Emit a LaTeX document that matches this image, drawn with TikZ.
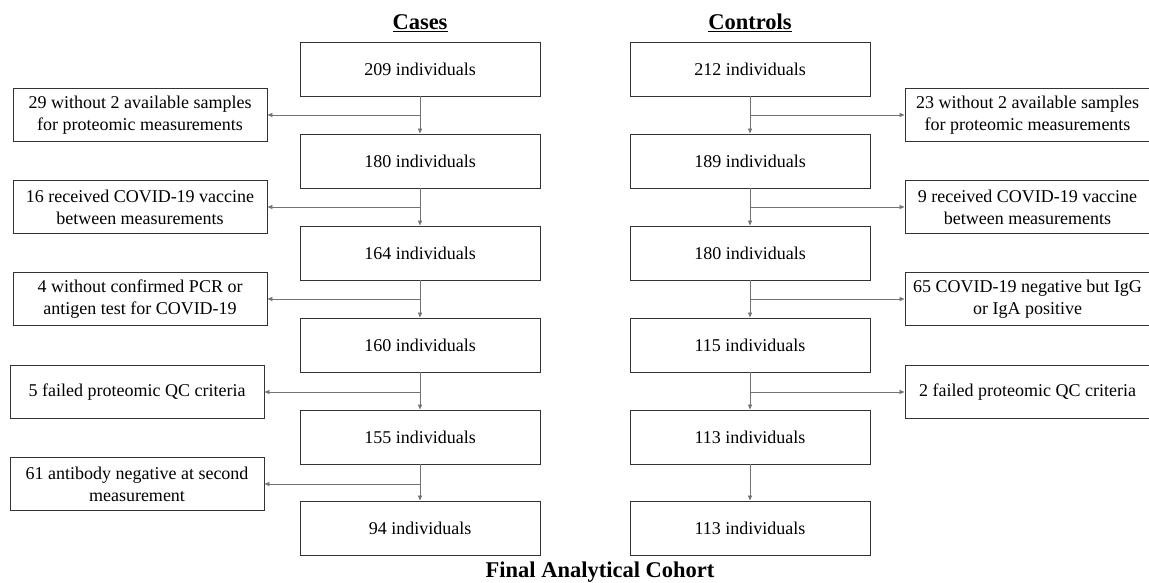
\documentclass[tikz,border=0pt]{standalone}
\usepackage{fontspec}
\setmainfont{Liberation Serif}
\usetikzlibrary{arrows.meta,calc}
\tikzset{
  mainbox/.style={draw=black!80, line width=0.9pt, minimum width=240pt, minimum height=54pt, inner sep=0pt, font=\fontsize{18}{22}\selectfont, align=center},
  exbox/.style={draw=black!80, line width=0.9pt, minimum width=254pt, minimum height=53pt, inner sep=0pt, font=\fontsize{18}{22}\selectfont, align=center},
  rexbox/.style={exbox, minimum width=245pt},
  conn/.style={draw=black!55, line width=0.8pt, -{Triangle[length=5pt,width=4pt]}},
  heading/.style={font=\fontsize{22.5}{26}\selectfont\bfseries, anchor=base, inner sep=0pt}
}
\begin{document}
\begin{tikzpicture}[x=1pt,y=-1pt]
\useasboundingbox (0,0) rectangle (1149,583);
\fill[white] (0,0) rectangle (1149,583);
\clip (0,0) rectangle (1149,583);

% headings
\node[heading] (hcases) at (420,30) {\underline{Cases}};
\node[heading] (hcontrols) at (750,30) {\underline{Controls}};
\node[heading] (hfinal) at (600,577) {Final Analytical Cohort};

% cases column
\node[mainbox] (m1) at (420,69) {209 individuals};
\node[mainbox] (m2) at (420,161) {180 individuals};
\node[mainbox] (m3) at (420,253) {164 individuals};
\node[mainbox] (m4) at (420,345) {160 individuals};
\node[mainbox] (m5) at (420,437) {155 individuals};
\node[mainbox] (m6) at (420,528) {94 individuals};

\node[exbox] (e1) at (140,115) {29 without 2 available samples\\for proteomic measurements};
\node[exbox] (e2) at (140,207) {16 received COVID-19 vaccine\\between measurements};
\node[exbox] (e3) at (140,299) {4 without confirmed PCR or\\antigen test for COVID-19};
\node[exbox] (e4) at (137,392) {5 failed proteomic QC criteria};
\node[exbox] (e5) at (137,484) {61 antibody negative at second\\measurement};

% controls column
\node[mainbox] (c1) at (750,69) {212 individuals};
\node[mainbox] (c2) at (750,161) {189 individuals};
\node[mainbox] (c3) at (750,253) {180 individuals};
\node[mainbox] (c4) at (750,345) {115 individuals};
\node[mainbox] (c5) at (750,437) {113 individuals};
\node[mainbox] (c6) at (750,528) {113 individuals};

\node[rexbox] (f1) at (1027.5,115) {23 without 2 available samples\\for proteomic measurements};
\node[rexbox] (f2) at (1027.5,207) {9 received COVID-19 vaccine\\between measurements};
\node[rexbox] (f3) at (1027.5,299) {65 COVID-19 negative but IgG\\or IgA positive};
\node[rexbox] (f4) at (1027.5,392) {2 failed proteomic QC criteria};

% cases connectors
\foreach \a/\b/\e in {m1/m2/e1, m2/m3/e2, m3/m4/e3, m4/m5/e4, m5/m6/e5}{
  \draw[conn] (\a.south) -- (\b.north);
  \coordinate (br-\e) at (\a.south |- \e.east);
  \draw[conn] (br-\e) -- (\e.east);
}
% controls connectors
\foreach \a/\b/\e in {c1/c2/f1, c2/c3/f2, c3/c4/f3, c4/c5/f4}{
  \draw[conn] (\a.south) -- (\b.north);
  \coordinate (br-\e) at (\a.south |- \e.west);
  \draw[conn] (br-\e) -- (\e.west);
}
\draw[conn] (c5.south) -- (c6.north);
\end{tikzpicture}
\end{document}
